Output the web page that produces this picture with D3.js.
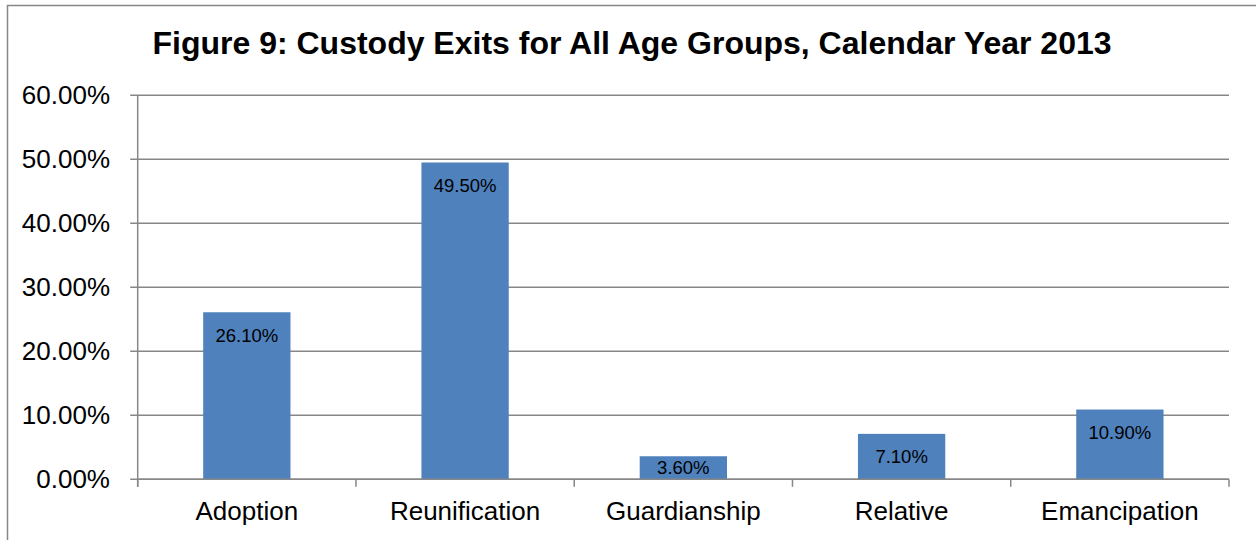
<!DOCTYPE html>
<html>
<head>
<meta charset="utf-8">
<script src="https://cdn.jsdelivr.net/npm/d3@7"></script>
<style>
  html, body { margin: 0; padding: 0; background: #fff; }
  svg { display: block; }
  text { font-family: "Liberation Sans", Arial, Helvetica, sans-serif; fill: #000; }
</style>
</head>
<body>
<svg id="chart" width="1256" height="540"></svg>
<script>
// Exit reasons and their share of custody exits
const categories = ["Adoption", "Reunification", "Guardianship", "Relative", "Emancipation"];
const shares = [26.1, 49.5, 3.6, 7.1, 10.9];
const yTicks = [0, 10, 20, 30, 40, 50, 60];
const title = "Figure 9: Custody Exits for All Age Groups, Calendar Year 2013";

const svg = d3.select("#chart");
const grid = "#878787";
const barColor = "#4f81bd";

const plot = { left: 137.7, right: 1229, top: 95.3, bottom: 479.3 };

// chart frame
svg.append("rect")
  .attr("x", 7.5).attr("y", 5.5)
  .attr("width", 1300).attr("height", 600)
  .attr("fill", "none").attr("stroke", grid).attr("stroke-width", 1.5);

svg.append("text")
  .attr("x", 632).attr("y", 54.3)
  .attr("text-anchor", "middle")
  .attr("font-size", 32).attr("font-weight", "bold")
  .text(title);

const x = d3.scaleBand().domain(categories)
  .range([plot.left, plot.right]).paddingInner(0.6).paddingOuter(0.3);
const y = d3.scaleLinear().domain([0, 60]).range([plot.bottom, plot.top]);

// horizontal gridlines
svg.append("g").selectAll("line").data(yTicks).join("line")
  .attr("x1", plot.left - 7.5).attr("x2", plot.right)
  .attr("y1", d => y(d)).attr("y2", d => y(d))
  .attr("stroke", grid).attr("stroke-width", 1.5);

// y axis line
svg.append("line")
  .attr("x1", plot.left).attr("x2", plot.left)
  .attr("y1", plot.top).attr("y2", plot.bottom + 7.5)
  .attr("stroke", grid).attr("stroke-width", 1.5);

// y tick labels
svg.append("g").selectAll("text").data(yTicks).join("text")
  .attr("x", 110).attr("y", d => y(d))
  .attr("dy", "0.35em")
  .attr("text-anchor", "end")
  .attr("font-size", 26)
  .text(d => d.toFixed(2) + "%");

// x tick marks at category boundaries
const bounds = d3.range(categories.length + 1).map(i => plot.left + i * (plot.right - plot.left) / categories.length);
svg.append("g").selectAll("line").data(bounds).join("line")
  .attr("x1", d => d).attr("x2", d => d)
  .attr("y1", plot.bottom).attr("y2", plot.bottom + 7.5)
  .attr("stroke", grid).attr("stroke-width", 1.5);

// bars
svg.append("g").selectAll("rect").data(categories).join("rect")
  .attr("x", d => x(d)).attr("width", x.bandwidth())
  .attr("y", (d, i) => y(shares[i]))
  .attr("height", (d, i) => plot.bottom - y(shares[i]))
  .attr("fill", barColor);

// redraw baseline over bars
svg.append("line")
  .attr("x1", plot.left).attr("x2", plot.right)
  .attr("y1", plot.bottom).attr("y2", plot.bottom)
  .attr("stroke", grid).attr("stroke-width", 1.5);

// value labels inside bar ends
svg.append("g").selectAll("text").data(categories).join("text")
  .attr("x", d => x(d) + x.bandwidth() / 2)
  .attr("y", (d, i) => {
    const top = y(shares[i]);
    const h = plot.bottom - top;
    return top + Math.min(23, h / 2);
  })
  .attr("dy", "0.35em")
  .attr("text-anchor", "middle")
  .attr("font-size", 18.5)
  .text((d, i) => shares[i].toFixed(2) + "%");

// category labels
svg.append("g").selectAll("text").data(categories).join("text")
  .attr("x", d => x(d) + x.bandwidth() / 2)
  .attr("y", 519.5)
  .attr("text-anchor", "middle")
  .attr("font-size", 26)
  .text(d => d);
</script>
</body>
</html>
